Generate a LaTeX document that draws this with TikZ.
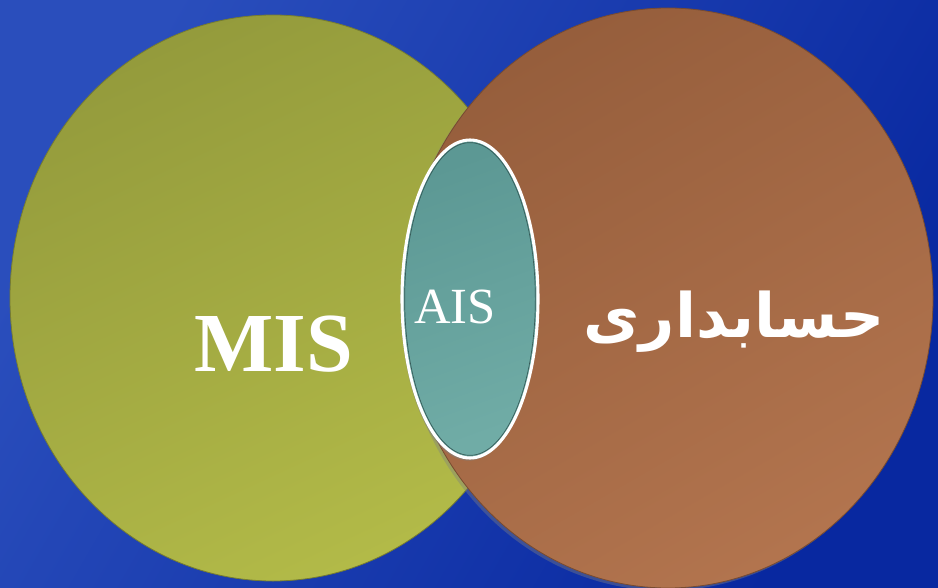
\documentclass[tikz,border=0pt]{standalone}
\usepackage{fontspec}
\setmainfont{Liberation Serif}
\newfontfamily\arabicfont[Script=Arabic]{DejaVu Sans}
\TeXXeTstate=1
\usetikzlibrary{shapes.geometric, shadows}
\definecolor{bglight}{RGB}{42,78,188}
\definecolor{bgdark}{RGB}{8,40,160}
\definecolor{olivedark}{RGB}{148,155,60}
\definecolor{olivelight}{RGB}{178,186,72}
\definecolor{browndark}{RGB}{150,94,60}
\definecolor{brownlight}{RGB}{178,116,78}
\definecolor{tealdark}{RGB}{92,152,148}
\definecolor{teallight}{RGB}{112,172,166}
\tikzset{
  blob/.style={ellipse, inner sep=0pt, line width=0.6pt},
  label text/.style={text=white, inner sep=0pt},
}

\begin{document}
\begin{tikzpicture}[x=0.75pt, y=-0.75pt]
  \shade[top color=bglight, bottom color=bgdark, shading angle=60] (0,0) rectangle (938,588);
  \useasboundingbox (0,0) rectangle (938,588);
  % the two sets
  \node[blob, draw=olivedark!80!black, top color=olivedark, bottom color=olivelight, shading angle=25,
        minimum width=394.5pt, minimum height=424.5pt] (mis) at (273,298) {};
  \node[blob, draw=browndark!80!black, top color=browndark, bottom color=brownlight, shading angle=30,
        drop shadow={shadow xshift=-2pt, shadow yshift=-2pt, opacity=0.4},
        minimum width=397.5pt, minimum height=435pt] (acc) at (668,298) {};
  % their overlap
  \node[blob, draw=white, line width=2.3pt, top color=tealdark, bottom color=teallight, shading angle=20,
        drop shadow={shadow xshift=-1pt, shadow yshift=-2pt, opacity=0.5},
        minimum width=102pt, minimum height=238.5pt] (ais) at (470,299) {};
  \node[blob, draw=tealdark!60!black, line width=0.5pt,
        minimum width=98pt, minimum height=234.5pt] (aisrim) at (ais.center) {};
  % labels
  \node[label text, font=\bfseries\fontsize{63}{70}\selectfont] (mistext) at (274,344) {MIS};
  \node[label text, font=\fontsize{38}{44}\selectfont] (aistext) at (455,307) {AIS};
  \node[label text, font=\arabicfont\bfseries\fontsize{46}{56}\selectfont] (acctext) at (734,322) {\beginR حسابداری\endR};
\end{tikzpicture}
\end{document}
